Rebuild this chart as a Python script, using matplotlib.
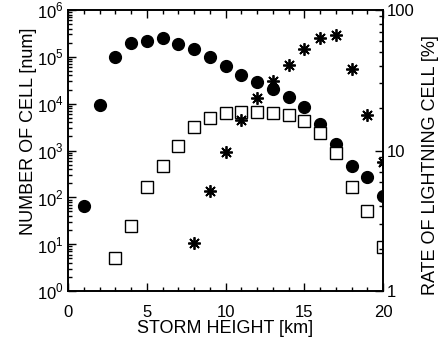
import numpy as np
import matplotlib
matplotlib.use("Agg")
import matplotlib.pyplot as plt
from matplotlib.ticker import LogLocator, FixedLocator, NullFormatter, FuncFormatter

# storm height [km]
heights_all = [1, 2, 3, 4, 5, 6, 7, 8, 9, 10, 11, 12, 13, 14, 15, 16, 17, 18, 19, 20]
cells_all = [66, 9400, 1.0e5, 1.95e5, 2.2e5, 2.5e5, 1.9e5, 1.45e5, 1.0e5, 6.5e4,
             4.05e4, 2.95e4, 2.04e4, 1.38e4, 8400, 3700, 1360, 470, 277, 109]

heights_ltg = [3, 4, 5, 6, 7, 8, 9, 10, 11, 12, 13, 14, 15, 16, 17, 18, 19, 20]
cells_ltg = [5.0, 24.5, 165, 475, 1260, 3100, 4900, 6300, 6650, 6600,
             6300, 5600, 4350, 2400, 875, 170, 50, 8.8]

heights_rate = [8, 9, 10, 11, 12, 13, 14, 15, 16, 17, 18, 19, 20]
rate_ltg = [2.21, 5.15, 9.8, 16.5, 23.5, 31.4, 40.6, 52.5, 63, 66.4, 37.8, 17.9, 8.3]

plt.rcParams["font.family"] = ["Liberation Sans", "DejaVu Sans"]
plt.rcParams["mathtext.fontset"] = "custom"
plt.rcParams["mathtext.rm"] = "Liberation Sans"

fig = plt.figure(figsize=(4.41, 3.42), dpi=100)
ax = fig.add_axes([0.1542, 0.149, 0.7143, 0.8218])
ax2 = ax.twinx()

ax.plot(heights_all, cells_all, "o", color="black", markersize=8.5, clip_on=True)
ax.plot(heights_ltg, cells_ltg, "s", mfc="white", mec="black", mew=1.0,
        markersize=8, clip_on=True)
ax2.plot(heights_rate, rate_ltg, marker=(8, 2, 0), ls="none", color="black",
         markersize=9, mew=1.3, clip_on=True)

ax.set_xlim(0, 20)
ax.set_yscale("log")
ax.set_ylim(1, 1e6)
ax2.set_yscale("log")
ax2.set_ylim(1, 100)

ax.set_xticks([0, 5, 10, 15, 20])
ax.xaxis.set_minor_locator(FixedLocator(np.arange(0, 21, 1)))
ax.yaxis.set_major_locator(LogLocator(base=10, numticks=10))
ax.yaxis.set_minor_locator(LogLocator(base=10, subs=np.arange(2, 10), numticks=10))
ax.yaxis.set_minor_formatter(NullFormatter())
ax.yaxis.set_major_formatter(FuncFormatter(lambda v, p: r"$10^{%d}$" % round(np.log10(v))))

ax2.yaxis.set_major_locator(FixedLocator([1, 10, 100]))
ax2.yaxis.set_major_formatter(FuncFormatter(lambda v, p: "%d" % v))
ax2.yaxis.set_minor_locator(LogLocator(base=10, subs=np.arange(2, 10), numticks=10))
ax2.yaxis.set_minor_formatter(NullFormatter())

ax.tick_params(axis="both", which="both", direction="in", top=True, labelsize=12,
               width=1, colors="black")
ax.tick_params(which="major", length=6)
ax.tick_params(which="minor", length=3)
ax.tick_params(axis="x", pad=10)
ax.tick_params(axis="y", pad=3)
ax2.tick_params(axis="y", which="both", direction="in", labelsize=12, width=1)
ax2.tick_params(which="major", length=6, pad=3)
ax2.tick_params(which="minor", length=3)

for a in (ax, ax2):
    for s in a.spines.values():
        s.set_linewidth(1.2)

ax.set_xlabel("STORM HEIGHT [km]", fontsize=13, labelpad=0)
ax.set_ylabel("NUMBER OF CELL [num]", fontsize=13)
ax.yaxis.set_label_coords(-0.098, 0.57)
ax2.set_ylabel("RATE OF LIGHTNING CELL [%]", fontsize=13)
ax2.yaxis.set_label_coords(1.125, 0.45)

fig.savefig("out.png", dpi=100)
